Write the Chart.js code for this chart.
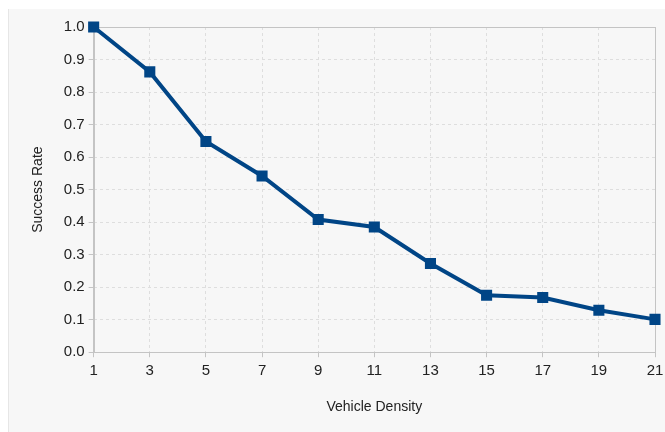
<!DOCTYPE html>
<html>
<head>
<meta charset="utf-8">
<script src="https://cdn.jsdelivr.net/npm/chart.js@4/dist/chart.umd.min.js"></script>
<style>
  html, body { margin: 0; padding: 0; background: #ffffff; }
  #wrap {
    position: absolute; left: 8px; top: 9px;
    width: 657px; height: 423px;
    background: #f7f7f7;
    border-left: 1px solid #e6e6e6;
    box-sizing: border-box;
  }
</style>
</head>
<body>
<div id="wrap"><canvas id="chart-line"></canvas></div>
<script>
var densities = [1, 3, 5, 7, 9, 11, 13, 15, 17, 19, 21];
var successRate = [1.0, 0.862, 0.648, 0.542, 0.408, 0.385, 0.273, 0.175, 0.168, 0.129, 0.101];
var xTicks = [1, 3, 5, 7, 9, 11, 13, 15, 17, 19, 21];
var yTicks = [0.0, 0.1, 0.2, 0.3, 0.4, 0.5, 0.6, 0.7, 0.8, 0.9, 1.0];

var points = densities.map(function(d, i) { return { x: d, y: successRate[i] }; });

// outline the whole plot area, like the original frame
var frame = {
    id: 'frame',
    beforeDatasetsDraw: function(chart) {
        var a = chart.chartArea, c = chart.ctx;
        c.save();
        c.strokeStyle = '#c4c4c4';
        c.lineWidth = 1;
        c.strokeRect(Math.round(a.left) + 0.5, Math.round(a.top) + 0.5,
                     Math.round(a.right - a.left), Math.round(a.bottom - a.top));
        c.restore();
    }
};

Chart.defaults.font.family = "'Liberation Sans', Arial, sans-serif";
Chart.defaults.color = '#222222';

var ctx = document.getElementById('chart-line');
var myLineChart = new Chart(ctx, {
    type: 'line',
    data: {
        datasets: [{
            label: 'Success Rate',
            data: points,
            borderColor: '#004586',
            backgroundColor: '#004586',
            borderWidth: 4,
            pointStyle: 'rect',
            pointRadius: 5,
            pointHoverRadius: 5,
            fill: false,
            clip: false,
            tension: 0
        }]
    },
    options: {
        responsive: true,
        maintainAspectRatio: false,
        animation: false,
        layout: { padding: { top: 18, right: 10, left: 17, bottom: 16 } },
        plugins: {
            legend: { display: false },
            tooltip: { enabled: false }
        },
        scales: {
            x: {
                type: 'linear',
                min: 1,
                max: 21,
                afterBuildTicks: function(axis) { axis.ticks = xTicks.map(function(v) { return { value: v }; }); },
                // let the last label hang into the right margin
                afterFit: function(axis) { axis.paddingRight = 0; },
                ticks: { font: { size: 15 }, padding: 5, color: '#222' },
                grid: { color: '#dedede', tickLength: 5, tickColor: '#c4c4c4' },
                border: { display: true, color: '#c4c4c4', dash: [3, 3] },
                title: { display: true, text: 'Vehicle Density', font: { size: 14 }, padding: { top: 14, bottom: 0 } }
            },
            y: {
                min: 0,
                max: 1,
                afterBuildTicks: function(axis) { axis.ticks = yTicks.map(function(v) { return { value: v }; }); },
                ticks: {
                    font: { size: 15 }, padding: 4, color: '#222',
                    callback: function(v) { return v.toFixed(1); }
                },
                grid: { color: '#dedede', tickLength: 5, tickColor: '#c4c4c4' },
                border: { display: true, color: '#c4c4c4', dash: [3, 3] },
                title: { display: true, text: 'Success Rate', font: { size: 14 }, padding: { top: 4, bottom: 13 } }
            }
        }
    },
    plugins: [frame]
});
</script>
</body>
</html>
